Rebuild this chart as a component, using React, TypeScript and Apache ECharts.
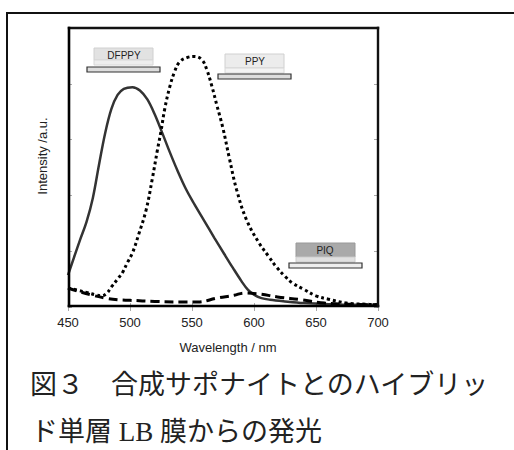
import React, { useEffect, useRef } from "react";
import * as echarts from "echarts";

// X axis ticks
const wavelengthTicks = [450, 500, 550, 600, 650, 700];

// DFPPY (solid)
const dfppyWl = [450, 455, 460, 465, 470, 475, 480, 485, 490, 495, 502, 508, 514, 520, 526, 532, 538, 545, 552, 560, 568, 576, 583, 590, 595, 600, 606, 613, 625, 640, 660, 680, 700];
const dfppyI = [0.57, 0.9, 1.22, 1.53, 1.95, 2.55, 3.12, 3.55, 3.8, 3.91, 3.94, 3.88, 3.72, 3.45, 3.12, 2.78, 2.46, 2.12, 1.84, 1.54, 1.24, 0.95, 0.7, 0.46, 0.31, 0.22, 0.16, 0.13, 0.1, 0.07, 0.05, 0.04, 0.04];

// PPY (dotted)
const ppyWl = [450, 458, 465, 472, 477, 481, 485, 490, 494, 498, 502, 507, 513, 518, 522, 525, 528, 532, 536, 540, 546, 552, 558, 562, 566, 570, 575, 580, 586, 594, 604, 612, 618, 625, 631, 640, 650, 660, 675, 690, 700];
const ppyI = [0.34, 0.3, 0.26, 0.22, 0.2, 0.24, 0.36, 0.5, 0.62, 0.8, 0.97, 1.3, 1.74, 2.3, 2.8, 3.15, 3.55, 3.94, 4.22, 4.39, 4.47, 4.49, 4.43, 4.25, 3.96, 3.62, 3.2, 2.68, 2.1, 1.56, 1.15, 0.9, 0.72, 0.55, 0.43, 0.32, 0.2, 0.14, 0.07, 0.05, 0.04];

// PIQ (dashed)
const piqWl = [450, 460, 470, 480, 490, 500, 520, 540, 555, 570, 584, 592, 605, 619, 638, 657, 676, 700];
const piqI = [0.34, 0.27, 0.21, 0.16, 0.13, 0.12, 0.1, 0.09, 0.09, 0.16, 0.21, 0.25, 0.23, 0.18, 0.13, 0.07, 0.05, 0.04];

const xName = "Wavelength / nm";
const yName = "Intensity /a.u.";
const captionLine1 = "図３　合成サポナイトとのハイブリッ";
const captionLine2 = "ド単層 LB 膜からの発光";

const zip = (xs: number[], ys: number[]) => xs.map((x, i) => [x, ys[i]]);

export default function App() {
  const ref = useRef<HTMLDivElement>(null);
  useEffect(() => {
    if (!ref.current) return;
    const chart = echarts.init(ref.current, undefined, { renderer: "svg" });
    const latin = '"Liberation Sans", Arial, sans-serif';
    const tickStyle = { show: true, inside: true, length: 4, lineStyle: { color: "#aaa", width: 1 } };
    const box = (x: number, y: number, w: number, h: number, fill: string, stroke: string, lw = 1) => ({
      type: "rect",
      shape: { x, y, width: w, height: h },
      style: { fill, stroke, lineWidth: lw },
      silent: true,
    });
    const seg = (x1: number, y1: number, x2: number, y2: number, w = 2.4, color = "#111") => ({
      type: "line",
      z: 50,
      shape: { x1, y1, x2, y2 },
      style: { stroke: color, lineWidth: w, lineCap: "square" },
      silent: true,
    });
    const label = (text: string, x: number, y: number) => ({
      type: "text",
      x,
      y,
      style: { text, font: `10px ${latin}`, fill: "#222", align: "center", verticalAlign: "middle" },
      silent: true,
    });
    const mkX = (pos: string, showLabel: boolean) => ({
      type: "value",
      position: pos,
      min: wavelengthTicks[0],
      max: wavelengthTicks[wavelengthTicks.length - 1],
      interval: 50,
      axisLine: { show: false },
      axisTick: tickStyle,
      splitLine: { show: false },
      axisLabel: showLabel ? { fontFamily: latin, fontSize: 13, color: "#222", margin: 9 } : { show: false },
    });
    const mkY = (pos: string) => ({
      type: "value",
      position: pos,
      min: 0,
      max: 5,
      interval: 1,
      axisLine: { show: false },
      axisTick: tickStyle,
      splitLine: { show: false },
      axisLabel: { show: false },
    });
    chart.setOption({
      animation: false,
      backgroundColor: "#fff",
      grid: { left: 68, right: 136, top: 28, bottom: 143 },
      xAxis: [mkX("bottom", true), mkX("top", false)],
      yAxis: [mkY("left"), mkY("right")],
      series: [
        {
          type: "line",
          data: zip(dfppyWl, dfppyI),
          smooth: 0.35,
          showSymbol: false,
          lineStyle: { color: "#333", width: 2.5, type: "solid" },
        },
        {
          type: "line",
          data: zip(ppyWl, ppyI),
          smooth: 0.4,
          showSymbol: false,
          lineStyle: { color: "#000", width: 3, type: [3, 3] },
        },
        {
          type: "line",
          data: zip(piqWl, piqI),
          smooth: 0.4,
          showSymbol: false,
          lineStyle: { color: "#000", width: 3, type: [9, 5] },
        },
      ],
      graphic: [
        seg(7, 13, 514, 13, 2),
        seg(7, 13, 7, 450, 2),
        seg(69, 28, 378, 28),
        seg(69, 306, 378, 306, 2.6, "#000"),
        seg(69, 28, 69, 306, 2.6, "#000"),
        seg(378, 28, 378, 306),
        // DFPPY icon
        box(94, 48, 59, 12, "#e2e2e2", "#d0d0d0"),
        box(94, 60, 59, 5, "#eeeeee", "#d8d8d8"),
        box(87, 67, 73, 5, "#dddddd", "#333", 1.2),
        label("DFPPY", 124, 55),
        // PPY icon
        box(225, 54, 59, 14, "#ececec", "#d0d0d0"),
        box(225, 68, 59, 5, "#f3f3f3", "#d8d8d8"),
        box(218, 74, 73, 5, "#dddddd", "#333", 1.2),
        label("PPY", 255, 61),
        // PIQ icon
        box(296, 243, 59, 14, "#a9a9a9", "#999"),
        box(296, 257, 59, 5, "#e0e0e0", "#ccc"),
        box(289, 263, 73, 5, "#eeeeee", "#333", 1.2),
        label("PIQ", 325, 250),
        {
          type: "text",
          x: 42,
          y: 156,
          rotation: Math.PI / 2,
          style: { text: yName, font: `13px ${latin}`, fill: "#222", align: "center", verticalAlign: "middle" },
          silent: true,
        },
        {
          type: "text",
          x: 228,
          y: 347,
          style: { text: xName, font: `13px ${latin}`, fill: "#222", align: "center", verticalAlign: "middle" },
          silent: true,
        },
        {
          type: "text",
          x: 30,
          y: 385,
          style: { text: captionLine1, font: '27px "Liberation Serif", "Noto Sans CJK JP", serif', fill: "#222", align: "left", verticalAlign: "middle" },
          silent: true,
        },
        {
          type: "text",
          x: 31,
          y: 432,
          style: { text: captionLine2, font: '27px "Liberation Serif", "Noto Sans CJK JP", serif', fill: "#222", align: "left", verticalAlign: "middle" },
          silent: true,
        },
      ],
    });
    return () => chart.dispose();
  }, []);
  return <div ref={ref} style={{ position: "fixed", left: 0, top: 0, width: 514, height: 450 }} />;
}
